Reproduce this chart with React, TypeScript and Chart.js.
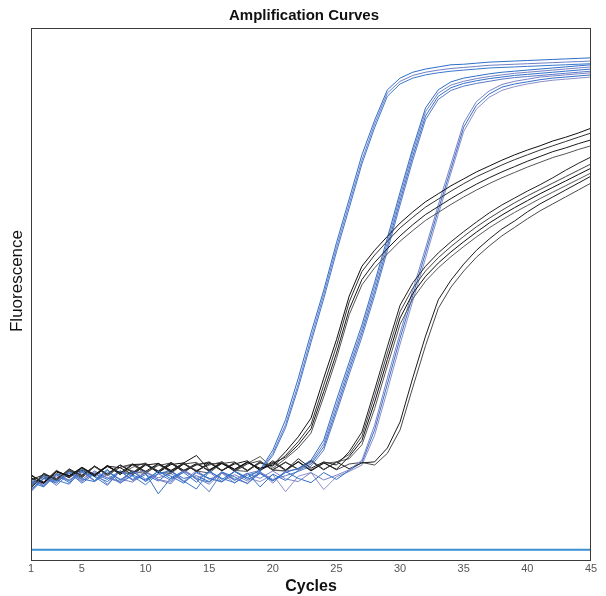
import React, { useEffect, useRef } from "react";
import { Chart, registerables } from "chart.js";

Chart.register(...registerables);

const cycles = [1, 2, 3, 4, 5, 6, 7, 8, 9, 10, 11, 12, 13, 14, 15, 16, 17, 18, 19, 20, 21, 22, 23, 24, 25, 26, 27, 28, 29, 30, 31, 32, 33, 34, 35, 36, 37, 38, 39, 40, 41, 42, 43, 44, 45];
const tickCycles = [1, 5, 10, 15, 20, 25, 30, 35, 40, 45];
const thresholdLevel = 2.1;
const chartTitle = "Amplification Curves";
const xTitle = "Cycles";
const yTitle = "Fluorescence";

// Blue curves (earliest group A, then B, then C)
const blueA1 = [13.2, 15.6, 14.6, 16.8, 15.4, 14.9, 17.0, 15.2, 16.8, 15.0, 16.9, 15.4, 16.6, 14.8, 16.9, 15.3, 16.8, 15.6, 17.1, 20.8, 26.5, 34.3, 42.8, 50.8, 59.7, 67.9, 76.2, 82.7, 88.4, 90.6, 91.7, 92.3, 92.7, 93.1, 93.2, 93.4, 93.6, 93.7, 93.8, 93.9, 94.0, 94.1, 94.2, 94.3, 94.4];
const blueA2 = [15.0, 14.2, 16.3, 15.1, 16.7, 15.0, 16.2, 14.6, 16.5, 16.9, 15.2, 14.5, 17.1, 15.6, 14.4, 16.6, 15.1, 16.4, 17.0, 20.2, 25.6, 33.2, 41.8, 50.0, 58.8, 67.0, 75.2, 82.0, 87.8, 90.0, 91.1, 91.7, 92.1, 92.4, 92.6, 92.8, 93.0, 93.1, 93.2, 93.3, 93.4, 93.5, 93.6, 93.7, 93.8];
const blueA3 = [14.1, 16.0, 15.2, 14.4, 17.2, 15.8, 14.2, 16.9, 15.9, 14.3, 16.4, 17.0, 15.0, 13.5, 16.8, 15.5, 14.7, 16.1, 16.8, 19.8, 25.0, 32.5, 41.0, 49.2, 58.0, 66.2, 74.5, 81.3, 87.2, 89.5, 90.6, 91.2, 91.6, 91.9, 92.1, 92.3, 92.5, 92.6, 92.7, 92.8, 92.9, 93.0, 93.1, 93.2, 93.3];
const blueB1 = [14.8, 13.9, 16.4, 15.0, 16.9, 15.1, 17.2, 14.6, 16.1, 15.2, 16.8, 15.9, 14.6, 16.7, 15.5, 14.9, 16.8, 15.3, 16.4, 15.0, 16.6, 17.4, 18.9, 22.7, 30.2, 37.3, 44.3, 52.3, 60.6, 69.2, 77.5, 85.0, 88.4, 89.9, 90.6, 91.0, 91.4, 91.7, 91.9, 92.1, 92.3, 92.5, 92.7, 92.9, 93.1];
const blueB2 = [13.0, 15.4, 14.8, 16.9, 15.0, 16.5, 14.4, 16.9, 15.2, 16.6, 15.3, 14.8, 16.9, 15.4, 16.7, 14.9, 16.2, 15.0, 16.8, 14.6, 16.9, 17.2, 18.5, 22.0, 29.3, 36.5, 43.5, 51.5, 59.8, 68.4, 76.8, 84.3, 87.8, 89.3, 90.0, 90.5, 90.9, 91.2, 91.5, 91.7, 91.9, 92.1, 92.3, 92.5, 92.7];
const blueB3 = [15.6, 14.0, 16.2, 14.7, 16.6, 15.9, 14.9, 16.8, 15.3, 16.5, 12.6, 15.6, 16.9, 15.4, 14.8, 16.7, 15.2, 16.5, 13.9, 16.3, 15.1, 17.0, 18.2, 21.4, 28.5, 35.8, 42.8, 50.6, 59.0, 67.6, 76.0, 83.5, 87.2, 88.8, 89.6, 90.1, 90.5, 90.8, 91.1, 91.3, 91.5, 91.7, 91.9, 92.1, 92.3];
const blueB4 = [14.3, 15.9, 14.2, 16.4, 15.3, 16.9, 15.6, 14.8, 16.9, 14.9, 16.4, 15.1, 17.0, 15.3, 13.0, 16.6, 15.4, 14.6, 16.7, 15.3, 16.0, 16.8, 17.8, 20.8, 27.8, 35.0, 42.0, 49.8, 58.2, 66.8, 75.2, 82.8, 86.6, 88.3, 89.1, 89.6, 90.0, 90.4, 90.7, 90.9, 91.1, 91.3, 91.5, 91.7, 91.9];
const blueC1 = [14.9, 14.5, 16.1, 15.2, 16.8, 15.0, 16.6, 15.4, 14.8, 16.7, 15.6, 16.4, 14.9, 17.0, 15.3, 16.5, 14.6, 16.4, 15.5, 16.9, 15.4, 14.9, 16.6, 15.2, 16.1, 17.1, 18.9, 25.5, 34.3, 42.8, 50.8, 58.7, 66.8, 74.5, 82.2, 86.2, 88.2, 89.4, 90.0, 90.4, 90.8, 91.0, 91.2, 91.4, 91.6];
const blueC2 = [13.4, 15.5, 15.0, 16.6, 14.6, 16.4, 15.3, 16.9, 15.1, 16.2, 15.0, 16.8, 15.5, 16.0, 14.9, 16.7, 15.8, 14.5, 16.5, 15.1, 16.8, 15.5, 14.7, 16.6, 15.3, 17.0, 18.5, 24.6, 33.2, 41.8, 49.8, 57.8, 65.9, 73.6, 81.4, 85.5, 87.6, 88.9, 89.5, 89.9, 90.3, 90.6, 90.8, 91.0, 91.2];
const blueC3 = [15.3, 14.4, 15.9, 16.4, 14.9, 16.7, 15.6, 15.0, 17.0, 15.4, 16.3, 16.8, 14.9, 16.5, 15.5, 14.8, 16.9, 15.6, 14.9, 16.2, 13.0, 15.9, 16.6, 13.4, 15.8, 16.8, 18.0, 23.6, 32.0, 40.7, 48.8, 56.8, 65.0, 72.8, 80.6, 84.8, 87.0, 88.3, 89.0, 89.5, 89.9, 90.2, 90.4, 90.6, 90.8];

// Black curves (group A, B, C)
const blackA1 = [15.6, 14.6, 16.8, 16.0, 17.6, 16.2, 17.9, 16.5, 18.2, 16.8, 18.3, 17.0, 18.4, 19.8, 17.1, 18.3, 17.2, 18.5, 17.4, 18.0, 20.5, 23.3, 26.8, 34.3, 41.5, 49.7, 55.3, 58.3, 60.9, 63.4, 65.5, 67.4, 68.9, 70.4, 71.7, 73.0, 74.1, 75.2, 76.2, 77.1, 77.9, 78.8, 79.5, 80.3, 81.2];
const blackA2 = [13.6, 16.4, 15.2, 17.3, 16.0, 17.8, 16.3, 18.0, 16.6, 18.2, 16.9, 18.4, 17.0, 18.0, 18.6, 17.0, 18.5, 16.9, 18.4, 17.8, 19.8, 22.4, 25.6, 33.0, 40.3, 48.6, 54.3, 57.4, 60.0, 62.5, 64.5, 66.4, 67.9, 69.4, 70.8, 72.1, 73.2, 74.3, 75.3, 76.2, 77.1, 77.9, 78.7, 79.5, 80.3];
const blackA3 = [16.0, 14.8, 17.0, 15.6, 17.5, 15.9, 17.8, 17.5, 16.2, 18.0, 18.3, 16.7, 18.2, 16.8, 18.5, 17.0, 18.2, 18.8, 17.0, 18.3, 19.5, 21.8, 24.8, 31.8, 39.0, 47.2, 52.8, 56.0, 58.6, 61.0, 63.1, 65.0, 66.5, 68.0, 69.4, 70.7, 71.9, 73.0, 74.0, 75.0, 75.9, 76.8, 77.5, 78.3, 79.0];
const blackA4 = [14.2, 15.8, 15.2, 17.0, 15.6, 17.7, 16.0, 17.6, 18.0, 16.4, 18.1, 16.6, 18.3, 17.0, 18.0, 18.6, 17.0, 18.3, 19.6, 17.4, 19.2, 21.2, 24.0, 30.8, 38.0, 46.2, 51.8, 55.0, 57.6, 60.0, 62.0, 63.9, 65.4, 66.9, 68.3, 69.6, 70.8, 71.9, 72.9, 73.9, 74.8, 75.7, 76.4, 77.2, 77.9];
const blackB1 = [15.2, 16.2, 15.5, 16.9, 16.1, 17.8, 16.2, 18.0, 16.6, 18.2, 16.8, 18.5, 17.0, 18.3, 16.9, 18.6, 17.2, 18.6, 17.2, 18.5, 17.0, 19.2, 17.4, 18.6, 18.0, 20.5, 24.2, 32.1, 40.2, 48.0, 52.2, 55.3, 57.8, 59.9, 61.8, 63.6, 65.3, 66.8, 68.1, 69.4, 70.6, 71.9, 73.3, 74.6, 75.8];
const blackB2 = [13.8, 16.5, 15.3, 17.2, 15.8, 17.7, 16.3, 18.0, 16.8, 16.4, 18.3, 16.9, 18.2, 18.5, 16.8, 18.3, 18.6, 17.0, 18.5, 17.1, 18.6, 17.2, 18.9, 17.2, 18.5, 20.0, 23.4, 31.0, 39.0, 46.8, 51.2, 54.4, 56.9, 59.0, 60.9, 62.7, 64.3, 65.8, 67.2, 68.5, 69.7, 70.9, 72.1, 73.3, 74.5];
const blackB3 = [16.2, 14.6, 16.8, 16.0, 17.0, 16.1, 17.9, 16.2, 18.1, 18.2, 16.6, 18.1, 18.4, 16.8, 18.2, 18.3, 16.9, 18.6, 17.0, 18.8, 17.1, 18.6, 16.9, 18.4, 17.2, 19.6, 22.6, 29.8, 37.8, 45.6, 50.2, 53.4, 55.9, 58.0, 59.9, 61.7, 63.4, 64.9, 66.3, 67.6, 68.9, 70.1, 71.3, 72.5, 73.7];
const blackB4 = [14.6, 14.8, 16.4, 15.7, 17.3, 15.9, 17.9, 16.3, 17.6, 18.4, 16.7, 16.4, 18.3, 16.9, 16.5, 18.4, 17.0, 16.8, 18.7, 17.0, 16.9, 18.6, 17.1, 18.3, 18.6, 19.2, 21.8, 28.6, 36.6, 44.4, 49.2, 52.5, 55.0, 57.1, 59.0, 60.8, 62.5, 64.0, 65.4, 66.7, 68.0, 69.2, 70.4, 71.6, 72.8];
const blackC1 = [15.0, 14.6, 16.7, 15.8, 17.5, 16.1, 17.7, 16.6, 16.4, 18.1, 16.6, 18.3, 16.8, 18.1, 18.4, 16.9, 18.4, 17.0, 18.6, 17.1, 18.5, 17.2, 18.7, 17.1, 18.6, 17.3, 18.4, 18.6, 21.2, 26.1, 34.4, 42.2, 49.0, 52.7, 55.7, 58.3, 60.4, 62.3, 63.8, 65.5, 67.0, 68.3, 69.6, 70.9, 72.2];
const blackC2 = [13.7, 16.2, 15.1, 17.1, 15.7, 17.8, 16.2, 17.6, 18.2, 16.6, 17.9, 18.4, 16.6, 18.2, 17.0, 18.6, 16.8, 18.2, 18.8, 17.1, 16.9, 18.7, 17.0, 18.5, 17.1, 18.2, 18.5, 18.0, 20.2, 24.6, 32.6, 40.4, 47.4, 51.4, 54.4, 57.0, 59.1, 61.0, 62.6, 64.2, 65.7, 67.0, 68.3, 69.6, 70.9];

const blueSeries = [blueA1, blueA2, blueA3, blueB1, blueB2, blueB3, blueB4, blueC1, blueC2, blueC3];
const blueColors = ["#2e6fc9", "#6f7fc6", "#3a78cc", "#2e6fc9", "#7880c4", "#3472c8", "#5a78c8", "#7a82c6", "#3470c6", "#8a8fc8"];
const blackSeries = [blackA1, blackA2, blackA3, blackA4, blackB1, blackB2, blackB3, blackB4, blackC1, blackC2];
const blackColors = ["#111111", "#333333", "#1a1a1a", "#555555", "#222222", "#444444", "#111111", "#5a5a5a", "#1c1c1c", "#4a4a4a"];

const FONT = "'Liberation Sans', Arial, sans-serif";
const NARROW = "'Liberation Sans Narrow', 'Liberation Sans', Arial, sans-serif";

export default function App() {
  const ref = useRef<HTMLCanvasElement | null>(null);

  useEffect(() => {
    if (!ref.current) return;
    const toPoints = (vals: number[]) => vals.map((v, i) => ({ x: cycles[i], y: v }));
    const datasets: any[] = [];
    datasets.push({
      label: "threshold",
      data: [
        { x: cycles[0], y: thresholdLevel },
        { x: cycles[cycles.length - 1], y: thresholdLevel },
      ],
      borderColor: "#3d8fd3",
      borderWidth: 2,
      pointRadius: 0,
    });
    for (let i = 0; i < blueSeries.length; i++) {
      datasets.push({
        label: "black" + i,
        data: toPoints(blackSeries[i]),
        borderColor: blackColors[i],
        borderWidth: 1,
        pointRadius: 0,
        tension: 0,
      });
      datasets.push({
        label: "blue" + i,
        data: toPoints(blueSeries[i]),
        borderColor: blueColors[i],
        borderWidth: 1,
        pointRadius: 0,
        tension: 0,
      });
    }

    const frame = {
      id: "frame",
      beforeDraw(chart: any) {
        const { ctx } = chart;
        ctx.save();
        ctx.fillStyle = "#ffffff";
        ctx.fillRect(0, 0, chart.width, chart.height);
        ctx.restore();
      },
      afterDatasetsDraw(chart: any) {
        const { ctx, chartArea: a } = chart;
        ctx.save();
        ctx.strokeStyle = "#3a3a3a";
        ctx.lineWidth = 1;
        ctx.strokeRect(Math.round(a.left) + 0.5, Math.round(a.top) + 0.5, Math.round(a.right - a.left) - 1, Math.round(a.bottom - a.top) - 1);
        ctx.restore();
      },
      afterDraw(chart: any) {
        const { ctx } = chart;
        ctx.save();
        ctx.fillStyle = "#111";
        ctx.textAlign = "center";
        ctx.textBaseline = "middle";
        ctx.font = "bold 15px " + FONT;
        ctx.fillText(chartTitle, 304, 16);
        ctx.translate(17, 281);
        ctx.rotate(-Math.PI / 2);
        ctx.font = "17px " + FONT;
        ctx.fillText(yTitle, 0, 0);
        ctx.restore();
      },
    };

    const chart = new Chart(ref.current, {
      type: "line",
      data: { datasets },
      options: {
        responsive: false,
        animation: false,
        devicePixelRatio: 1,
        layout: { padding: { left: 31, right: 15, top: 28, bottom: 0 } },
        plugins: {
          legend: { display: false },
          tooltip: { enabled: false },
          title: { display: false },
        },
        scales: {
          x: {
            type: "linear",
            min: 1,
            max: 45,
            grid: { display: false, drawTicks: false },
            border: { display: false },
            afterBuildTicks: (scale: any) => {
              scale.ticks = tickCycles.map((v) => ({ value: v }));
            },
            afterFit: (scale: any) => {
              scale.height = 35;
            },
            ticks: {
              color: "#555",
              font: { family: NARROW, size: 11, lineHeight: 1 },
              padding: 2,
              maxRotation: 0,
              autoSkip: false,
            },
            title: {
              display: true,
              text: xTitle,
              color: "#111",
              font: { family: FONT, size: 16, weight: "bold" },
              padding: { top: 2, bottom: 0 },
            },
          },
          y: {
            display: false,
            min: 0,
            max: 100,
          },
        },
      },
      plugins: [frame],
    });
    return () => chart.destroy();
  }, []);

  return (
    <div style={{ position: "absolute", left: 0, top: 0, width: 606, height: 596 }}>
      <canvas ref={ref} width={606} height={596} style={{ display: "block" }} />
    </div>
  );
}
